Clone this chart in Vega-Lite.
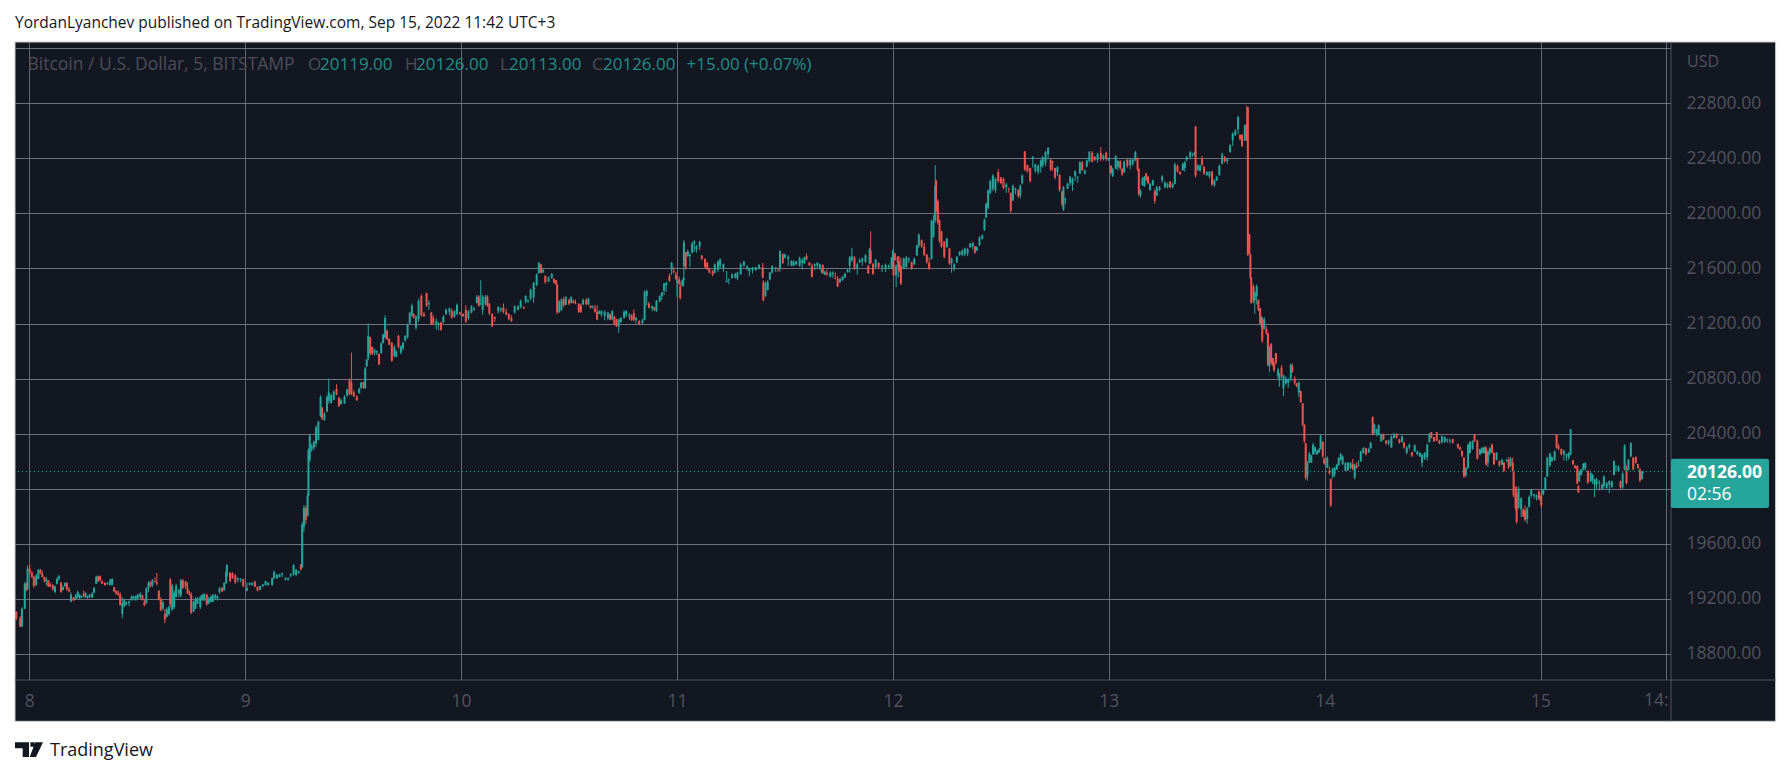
{"$schema":"https://vega.github.io/schema/vega-lite/v6.json","description":"BTC/USD 5 minute candles, Bitstamp, 8-15 Sep 2022","width":1656,"height":638,"autosize":"none","padding":{"left":15,"top":42,"right":120,"bottom":94},"background":"#ffffff","view":{"fill":"#131722","stroke":null},"config":{"font":"Open Sans","text":{"font":"Open Sans"}},"title":{"text":"YordanLyanchev published on TradingView.com, Sep 15, 2022 11:42 UTC+3","anchor":"start","frame":"group","offset":10,"fontSize":15.5,"fontWeight":"normal","color":"#131722"},"resolve":{"axis":{"x":"independent","y":"independent"}},"datasets":{"candles":[
{"t":7.94,"o":19105,"h":19110,"l":19045,"c":19060},{"t":7.958,"o":19060,"h":19075,"l":18994,"c":19000},{"t":7.966,"o":19000,"h":19139,"l":18995,"c":19130},{"t":7.979,"o":19130,"h":19321,"l":19125,"c":19310},{"t":7.986,"o":19310,"h":19325,"l":19255,"c":19265},{"t":7.992,"o":19270,"h":19442,"l":19265,"c":19420},{"t":8.002,"o":19420,"h":19454,"l":19380,"c":19390},{"t":8.012,"o":19390,"h":19400,"l":19350,"c":19360},{"t":8.021,"o":19360,"h":19369,"l":19280,"c":19295},{"t":8.032,"o":19300,"h":19382,"l":19295,"c":19370},{"t":8.042,"o":19345,"h":19418,"l":19345,"c":19410},{"t":8.051,"o":19410,"h":19418,"l":19382,"c":19385},{"t":8.06,"o":19385,"h":19406,"l":19357,"c":19360},{"t":8.07,"o":19360,"h":19360,"l":19320,"c":19330},{"t":8.079,"o":19330,"h":19357,"l":19297,"c":19340},{"t":8.088,"o":19335,"h":19335,"l":19285,"c":19295},{"t":8.097,"o":19305,"h":19321,"l":19285,"c":19290},{"t":8.109,"o":19300,"h":19309,"l":19260,"c":19270},{"t":8.119,"o":19250,"h":19297,"l":19241,"c":19290},{"t":8.128,"o":19310,"h":19357,"l":19305,"c":19345},{"t":8.137,"o":19345,"h":19374,"l":19333,"c":19365},{"t":8.147,"o":19320,"h":19321,"l":19244,"c":19250},{"t":8.156,"o":19265,"h":19297,"l":19260,"c":19285},{"t":8.165,"o":19295,"h":19321,"l":19285,"c":19315},{"t":8.174,"o":19315,"h":19321,"l":19260,"c":19270},{"t":8.184,"o":19270,"h":19285,"l":19248,"c":19255},{"t":8.193,"o":19180,"h":19248,"l":19176,"c":19230},{"t":8.205,"o":19210,"h":19212,"l":19183,"c":19190},{"t":8.215,"o":19195,"h":19236,"l":19192,"c":19225},{"t":8.224,"o":19210,"h":19260,"l":19207,"c":19250},{"t":8.233,"o":19205,"h":19236,"l":19200,"c":19230},{"t":8.242,"o":19210,"h":19224,"l":19207,"c":19220},{"t":8.252,"o":19240,"h":19260,"l":19212,"c":19220},{"t":8.261,"o":19210,"h":19248,"l":19207,"c":19240},{"t":8.27,"o":19210,"h":19224,"l":19200,"c":19215},{"t":8.279,"o":19210,"h":19236,"l":19207,"c":19230},{"t":8.291,"o":19210,"h":19248,"l":19207,"c":19240},{"t":8.3,"o":19245,"h":19285,"l":19241,"c":19280},{"t":8.31,"o":19310,"h":19369,"l":19309,"c":19360},{"t":8.319,"o":19365,"h":19369,"l":19321,"c":19330},{"t":8.328,"o":19365,"h":19369,"l":19328,"c":19335},{"t":8.337,"o":19330,"h":19333,"l":19309,"c":19312},{"t":8.35,"o":19315,"h":19321,"l":19297,"c":19300},{"t":8.362,"o":19305,"h":19321,"l":19304,"c":19318},{"t":8.375,"o":19300,"h":19345,"l":19297,"c":19340},{"t":8.384,"o":19305,"h":19350,"l":19297,"c":19345},{"t":8.393,"o":19285,"h":19285,"l":19248,"c":19255},{"t":8.403,"o":19260,"h":19260,"l":19231,"c":19236},{"t":8.412,"o":19240,"h":19260,"l":19224,"c":19228},{"t":8.421,"o":19230,"h":19248,"l":19151,"c":19155},{"t":8.431,"o":19090,"h":19212,"l":19059,"c":19170},{"t":8.44,"o":19150,"h":19200,"l":19139,"c":19190},{"t":8.449,"o":19160,"h":19183,"l":19151,"c":19175},{"t":8.462,"o":19170,"h":19188,"l":19147,"c":19180},{"t":8.474,"o":19190,"h":19224,"l":19188,"c":19218},{"t":8.483,"o":19205,"h":19224,"l":19200,"c":19215},{"t":8.493,"o":19190,"h":19224,"l":19188,"c":19220},{"t":8.502,"o":19205,"h":19236,"l":19200,"c":19230},{"t":8.514,"o":19210,"h":19248,"l":19200,"c":19240},{"t":8.524,"o":19225,"h":19230,"l":19188,"c":19195},{"t":8.533,"o":19175,"h":19200,"l":19147,"c":19155},{"t":8.542,"o":19170,"h":19285,"l":19163,"c":19275},{"t":8.552,"o":19275,"h":19328,"l":19248,"c":19315},{"t":8.561,"o":19320,"h":19328,"l":19285,"c":19295},{"t":8.57,"o":19300,"h":19345,"l":19285,"c":19335},{"t":8.582,"o":19330,"h":19357,"l":19320,"c":19325},{"t":8.591,"o":19320,"h":19388,"l":19297,"c":19310},{"t":8.6,"o":19260,"h":19261,"l":19188,"c":19195},{"t":8.609,"o":19195,"h":19212,"l":19110,"c":19120},{"t":8.619,"o":19130,"h":19188,"l":19115,"c":19175},{"t":8.628,"o":19090,"h":19127,"l":19023,"c":19050},{"t":8.637,"o":19070,"h":19139,"l":19066,"c":19125},{"t":8.647,"o":19090,"h":19151,"l":19079,"c":19140},{"t":8.653,"o":19340,"h":19352,"l":19139,"c":19160},{"t":8.662,"o":19120,"h":19309,"l":19115,"c":19295},{"t":8.671,"o":19140,"h":19261,"l":19127,"c":19245},{"t":8.68,"o":19215,"h":19309,"l":19212,"c":19295},{"t":8.693,"o":19240,"h":19272,"l":19212,"c":19265},{"t":8.702,"o":19225,"h":19345,"l":19212,"c":19335},{"t":8.711,"o":19335,"h":19345,"l":19272,"c":19280},{"t":8.724,"o":19325,"h":19333,"l":19272,"c":19285},{"t":8.733,"o":19280,"h":19321,"l":19236,"c":19240},{"t":8.742,"o":19240,"h":19260,"l":19224,"c":19230},{"t":8.75,"o":19230,"h":19248,"l":19091,"c":19100},{"t":8.761,"o":19110,"h":19188,"l":19103,"c":19180},{"t":8.77,"o":19130,"h":19212,"l":19127,"c":19200},{"t":8.779,"o":19165,"h":19212,"l":19163,"c":19205},{"t":8.792,"o":19140,"h":19224,"l":19127,"c":19215},{"t":8.801,"o":19190,"h":19236,"l":19188,"c":19228},{"t":8.81,"o":19190,"h":19241,"l":19183,"c":19235},{"t":8.822,"o":19230,"h":19236,"l":19151,"c":19160},{"t":8.831,"o":19165,"h":19212,"l":19163,"c":19205},{"t":8.841,"o":19178,"h":19224,"l":19176,"c":19215},{"t":8.85,"o":19180,"h":19236,"l":19176,"c":19228},{"t":8.862,"o":19205,"h":19236,"l":19200,"c":19230},{"t":8.872,"o":19205,"h":19224,"l":19188,"c":19215},{"t":8.881,"o":19250,"h":19285,"l":19236,"c":19280},{"t":8.893,"o":19280,"h":19285,"l":19248,"c":19255},{"t":8.903,"o":19262,"h":19321,"l":19260,"c":19315},{"t":8.912,"o":19315,"h":19406,"l":19309,"c":19395},{"t":8.915,"o":19370,"h":19454,"l":19357,"c":19445},{"t":8.93,"o":19390,"h":19394,"l":19321,"c":19330},{"t":8.941,"o":19385,"h":19394,"l":19345,"c":19352},{"t":8.954,"o":19370,"h":19382,"l":19309,"c":19320},{"t":8.966,"o":19340,"h":19357,"l":19321,"c":19350},{"t":8.979,"o":19340,"h":19352,"l":19321,"c":19345},{"t":8.991,"o":19345,"h":19345,"l":19285,"c":19295},{"t":9.008,"o":19260,"h":19320,"l":19255,"c":19278},{"t":9.02,"o":19305,"h":19320,"l":19297,"c":19315},{"t":9.032,"o":19300,"h":19321,"l":19297,"c":19318},{"t":9.045,"o":19325,"h":19333,"l":19285,"c":19290},{"t":9.057,"o":19290,"h":19285,"l":19255,"c":19260},{"t":9.069,"o":19265,"h":19297,"l":19265,"c":19292},{"t":9.082,"o":19295,"h":19309,"l":19285,"c":19305},{"t":9.094,"o":19300,"h":19333,"l":19297,"c":19328},{"t":9.106,"o":19300,"h":19321,"l":19297,"c":19318},{"t":9.125,"o":19300,"h":19357,"l":19297,"c":19350},{"t":9.134,"o":19350,"h":19406,"l":19345,"c":19395},{"t":9.147,"o":19350,"h":19382,"l":19345,"c":19375},{"t":9.159,"o":19360,"h":19382,"l":19357,"c":19378},{"t":9.171,"o":19375,"h":19394,"l":19357,"c":19385},{"t":9.187,"o":19340,"h":19357,"l":19333,"c":19352},{"t":9.199,"o":19340,"h":19357,"l":19333,"c":19350},{"t":9.211,"o":19370,"h":19386,"l":19357,"c":19380},{"t":9.224,"o":19375,"h":19454,"l":19369,"c":19445},{"t":9.236,"o":19375,"h":19418,"l":19365,"c":19410},{"t":9.248,"o":19390,"h":19406,"l":19382,"c":19400},{"t":9.258,"o":19450,"h":19450,"l":19406,"c":19415},{"t":9.264,"o":19430,"h":19757,"l":19425,"c":19740},
{"t":9.272,"o":19725,"h":19879,"l":19685,"c":19860},{"t":9.281,"o":19860,"h":19879,"l":19745,"c":19775},{"t":9.289,"o":19800,"h":19964,"l":19818,"c":19950},{"t":9.293,"o":19950,"h":20291,"l":19945,"c":20280},{"t":9.299,"o":20210,"h":20400,"l":20194,"c":20385},{"t":9.308,"o":20290,"h":20327,"l":20267,"c":20310},{"t":9.318,"o":20300,"h":20351,"l":20279,"c":20340},{"t":9.328,"o":20330,"h":20460,"l":20303,"c":20445},{"t":9.339,"o":20355,"h":20497,"l":20351,"c":20485},{"t":9.349,"o":20530,"h":20679,"l":20521,"c":20665},{"t":9.356,"o":20590,"h":20594,"l":20497,"c":20510},{"t":9.367,"o":20500,"h":20558,"l":20492,"c":20545},{"t":9.379,"o":20560,"h":20679,"l":20557,"c":20665},{"t":9.387,"o":20640,"h":20800,"l":20618,"c":20700},{"t":9.398,"o":20625,"h":20691,"l":20618,"c":20680},{"t":9.41,"o":20645,"h":20715,"l":20642,"c":20705},{"t":9.423,"o":20725,"h":20759,"l":20679,"c":20685},{"t":9.434,"o":20660,"h":20667,"l":20594,"c":20600},{"t":9.444,"o":20615,"h":20655,"l":20613,"c":20645},{"t":9.46,"o":20620,"h":20679,"l":20618,"c":20670},{"t":9.472,"o":20675,"h":20727,"l":20671,"c":20720},{"t":9.483,"o":20785,"h":20800,"l":20679,"c":20690},{"t":9.492,"o":20770,"h":20989,"l":20679,"c":20690},{"t":9.503,"o":20700,"h":20715,"l":20667,"c":20672},{"t":9.517,"o":20670,"h":20679,"l":20637,"c":20645},{"t":9.528,"o":20695,"h":20735,"l":20691,"c":20725},{"t":9.537,"o":20730,"h":20776,"l":20727,"c":20770},{"t":9.548,"o":20775,"h":20776,"l":20727,"c":20735},{"t":9.556,"o":20730,"h":20885,"l":20727,"c":20875},{"t":9.563,"o":20890,"h":20945,"l":20885,"c":20940},{"t":9.57,"o":20950,"h":21200,"l":20933,"c":21110},{"t":9.579,"o":21100,"h":21103,"l":20970,"c":20985},{"t":9.588,"o":21030,"h":21035,"l":20970,"c":20980},{"t":9.599,"o":20985,"h":21018,"l":20970,"c":21010},{"t":9.61,"o":20990,"h":21006,"l":20970,"c":21000},{"t":9.62,"o":20980,"h":20982,"l":20897,"c":20905},{"t":9.63,"o":20985,"h":21067,"l":20982,"c":21055},{"t":9.639,"o":21060,"h":21127,"l":21055,"c":21120},{"t":9.648,"o":21100,"h":21260,"l":21091,"c":21240},{"t":9.657,"o":21150,"h":21152,"l":21079,"c":21085},{"t":9.667,"o":21090,"h":21091,"l":21042,"c":21048},{"t":9.679,"o":21060,"h":21067,"l":20921,"c":20930},{"t":9.691,"o":20965,"h":21042,"l":20957,"c":21030},{"t":9.7,"o":20960,"h":21006,"l":20953,"c":20998},{"t":9.71,"o":21110,"h":21120,"l":21018,"c":21030},{"t":9.721,"o":20990,"h":21042,"l":20977,"c":21035},{"t":9.731,"o":21020,"h":21067,"l":21006,"c":21060},{"t":9.741,"o":21080,"h":21115,"l":21067,"c":21110},{"t":9.752,"o":21100,"h":21200,"l":21091,"c":21190},{"t":9.762,"o":21200,"h":21285,"l":21200,"c":21275},{"t":9.772,"o":21260,"h":21345,"l":21248,"c":21330},{"t":9.78,"o":21270,"h":21273,"l":21236,"c":21245},{"t":9.791,"o":21170,"h":21260,"l":21156,"c":21250},{"t":9.803,"o":21230,"h":21382,"l":21212,"c":21365},{"t":9.816,"o":21400,"h":21413,"l":21248,"c":21260},{"t":9.828,"o":21270,"h":21285,"l":21248,"c":21255},{"t":9.84,"o":21420,"h":21425,"l":21321,"c":21330},{"t":9.851,"o":21340,"h":21370,"l":21297,"c":21350},{"t":9.862,"o":21280,"h":21285,"l":21188,"c":21195},{"t":9.871,"o":21240,"h":21260,"l":21188,"c":21200},{"t":9.885,"o":21200,"h":21236,"l":21156,"c":21215},{"t":9.895,"o":21190,"h":21212,"l":21151,"c":21205},{"t":9.907,"o":21210,"h":21212,"l":21147,"c":21155},{"t":9.918,"o":21210,"h":21260,"l":21200,"c":21250},{"t":9.93,"o":21270,"h":21309,"l":21260,"c":21300},{"t":9.946,"o":21285,"h":21316,"l":21260,"c":21310},{"t":9.957,"o":21290,"h":21309,"l":21236,"c":21245},{"t":9.969,"o":21250,"h":21297,"l":21241,"c":21290},{"t":9.981,"o":21270,"h":21345,"l":21260,"c":21335},{"t":9.995,"o":21280,"h":21285,"l":21260,"c":21270},{"t":10.009,"o":21270,"h":21273,"l":21248,"c":21255},{"t":10.022,"o":21300,"h":21333,"l":21205,"c":21215},{"t":10.034,"o":21240,"h":21297,"l":21224,"c":21290},{"t":10.048,"o":21280,"h":21333,"l":21273,"c":21325},{"t":10.06,"o":21300,"h":21321,"l":21292,"c":21310},{"t":10.073,"o":21350,"h":21406,"l":21345,"c":21395},{"t":10.082,"o":21395,"h":21406,"l":21321,"c":21330},{"t":10.091,"o":21340,"h":21515,"l":21333,"c":21345},{"t":10.1,"o":21300,"h":21406,"l":21265,"c":21395},{"t":10.113,"o":21340,"h":21406,"l":21333,"c":21395},{"t":10.122,"o":21395,"h":21406,"l":21321,"c":21330},{"t":10.131,"o":21340,"h":21350,"l":21260,"c":21275},{"t":10.144,"o":21270,"h":21275,"l":21176,"c":21180},{"t":10.156,"o":21250,"h":21248,"l":21212,"c":21235},{"t":10.172,"o":21290,"h":21326,"l":21273,"c":21320},{"t":10.184,"o":21300,"h":21316,"l":21280,"c":21310},{"t":10.196,"o":21315,"h":21345,"l":21273,"c":21285},{"t":10.209,"o":21285,"h":21309,"l":21260,"c":21265},{"t":10.221,"o":21270,"h":21273,"l":21224,"c":21235},{"t":10.233,"o":21240,"h":21260,"l":21212,"c":21220},{"t":10.248,"o":21280,"h":21333,"l":21273,"c":21325},{"t":10.264,"o":21300,"h":21333,"l":21297,"c":21325},{"t":10.276,"o":21320,"h":21375,"l":21309,"c":21365},{"t":10.29,"o":21320,"h":21326,"l":21304,"c":21310},{"t":10.299,"o":21360,"h":21406,"l":21345,"c":21400},{"t":10.31,"o":21360,"h":21375,"l":21350,"c":21370},{"t":10.322,"o":21380,"h":21454,"l":21370,"c":21445},
{"t":10.336,"o":21390,"h":21503,"l":21350,"c":21495},{"t":10.34,"o":21455,"h":21462,"l":21450,"c":21452},{"t":10.35,"o":21480,"h":21564,"l":21470,"c":21555},{"t":10.36,"o":21565,"h":21648,"l":21563,"c":21640},{"t":10.37,"o":21630,"h":21630,"l":21563,"c":21570},{"t":10.38,"o":21570,"h":21600,"l":21570,"c":21590},{"t":10.39,"o":21545,"h":21551,"l":21490,"c":21500},{"t":10.405,"o":21505,"h":21544,"l":21503,"c":21535},{"t":10.42,"o":21530,"h":21568,"l":21527,"c":21560},{"t":10.43,"o":21525,"h":21527,"l":21490,"c":21498},{"t":10.44,"o":21515,"h":21515,"l":21479,"c":21485},{"t":10.445,"o":21480,"h":21491,"l":21268,"c":21280},{"t":10.455,"o":21285,"h":21370,"l":21278,"c":21360},{"t":10.465,"o":21300,"h":21382,"l":21292,"c":21375},{"t":10.475,"o":21375,"h":21394,"l":21321,"c":21335},{"t":10.485,"o":21335,"h":21399,"l":21333,"c":21390},{"t":10.5,"o":21370,"h":21382,"l":21333,"c":21345},{"t":10.51,"o":21350,"h":21399,"l":21345,"c":21390},{"t":10.52,"o":21365,"h":21375,"l":21345,"c":21350},{"t":10.53,"o":21350,"h":21375,"l":21340,"c":21345},{"t":10.545,"o":21345,"h":21345,"l":21277,"c":21285},{"t":10.555,"o":21330,"h":21345,"l":21277,"c":21285},{"t":10.565,"o":21340,"h":21382,"l":21333,"c":21370},{"t":10.58,"o":21375,"h":21382,"l":21333,"c":21340},{"t":10.59,"o":21340,"h":21388,"l":21335,"c":21380},{"t":10.6,"o":21330,"h":21333,"l":21309,"c":21315},{"t":10.61,"o":21315,"h":21333,"l":21309,"c":21320},{"t":10.62,"o":21310,"h":21333,"l":21279,"c":21285},{"t":10.63,"o":21285,"h":21333,"l":21224,"c":21230},{"t":10.64,"o":21270,"h":21297,"l":21268,"c":21290},{"t":10.65,"o":21265,"h":21297,"l":21248,"c":21290},{"t":10.665,"o":21255,"h":21297,"l":21224,"c":21285},{"t":10.68,"o":21240,"h":21285,"l":21224,"c":21280},{"t":10.69,"o":21265,"h":21273,"l":21224,"c":21230},{"t":10.7,"o":21230,"h":21297,"l":21225,"c":21290},{"t":10.71,"o":21250,"h":21256,"l":21188,"c":21195},{"t":10.72,"o":21230,"h":21236,"l":21176,"c":21180},{"t":10.73,"o":21180,"h":21236,"l":21132,"c":21230},{"t":10.74,"o":21210,"h":21248,"l":21205,"c":21240},{"t":10.755,"o":21240,"h":21297,"l":21236,"c":21285},{"t":10.765,"o":21265,"h":21297,"l":21248,"c":21290},{"t":10.78,"o":21250,"h":21273,"l":21224,"c":21265},{"t":10.79,"o":21255,"h":21268,"l":21219,"c":21225},{"t":10.8,"o":21275,"h":21302,"l":21217,"c":21230},{"t":10.81,"o":21225,"h":21248,"l":21200,"c":21240},{"t":10.825,"o":21220,"h":21224,"l":21188,"c":21195},{"t":10.84,"o":21205,"h":21236,"l":21195,"c":21225},{"t":10.85,"o":21225,"h":21442,"l":21224,"c":21430},{"t":10.86,"o":21400,"h":21447,"l":21333,"c":21435},{"t":10.87,"o":21345,"h":21357,"l":21309,"c":21315},{"t":10.885,"o":21310,"h":21333,"l":21290,"c":21325},{"t":10.895,"o":21320,"h":21321,"l":21292,"c":21300},{"t":10.905,"o":21290,"h":21370,"l":21285,"c":21365},{"t":10.92,"o":21360,"h":21406,"l":21357,"c":21400},{"t":10.93,"o":21400,"h":21430,"l":21370,"c":21425},{"t":10.94,"o":21440,"h":21496,"l":21406,"c":21490},{"t":10.95,"o":21480,"h":21503,"l":21430,"c":21495},{"t":10.965,"o":21545,"h":21564,"l":21503,"c":21510},{"t":10.975,"o":21590,"h":21648,"l":21551,"c":21640},{"t":10.985,"o":21580,"h":21612,"l":21564,"c":21575},{"t":10.995,"o":21555,"h":21576,"l":21515,"c":21525},{"t":11.0,"o":21500,"h":21539,"l":21394,"c":21510},{"t":11.01,"o":21520,"h":21540,"l":21479,"c":21490},{"t":11.015,"o":21470,"h":21503,"l":21375,"c":21385},{"t":11.025,"o":21475,"h":21520,"l":21472,"c":21515},{"t":11.031,"o":21515,"h":21540,"l":21467,"c":21530},{"t":11.032,"o":21620,"h":21806,"l":21527,"c":21790},{"t":11.04,"o":21720,"h":21721,"l":21593,"c":21605},{"t":11.05,"o":21690,"h":21738,"l":21685,"c":21725},{"t":11.06,"o":21690,"h":21709,"l":21612,"c":21700},{"t":11.07,"o":21715,"h":21794,"l":21709,"c":21780},{"t":11.08,"o":21780,"h":21806,"l":21721,"c":21795},{"t":11.09,"o":21740,"h":21770,"l":21714,"c":21760},{"t":11.105,"o":21760,"h":21800,"l":21733,"c":21795},{"t":11.115,"o":21695,"h":21697,"l":21660,"c":21670},{"t":11.13,"o":21670,"h":21673,"l":21600,"c":21610},{"t":11.14,"o":21640,"h":21648,"l":21588,"c":21595},{"t":11.15,"o":21600,"h":21600,"l":21564,"c":21570},{"t":11.165,"o":21580,"h":21588,"l":21544,"c":21555},{"t":11.175,"o":21570,"h":21636,"l":21564,"c":21630},{"t":11.19,"o":21590,"h":21660,"l":21576,"c":21650},{"t":11.2,"o":21620,"h":21673,"l":21600,"c":21665},{"t":11.215,"o":21600,"h":21636,"l":21576,"c":21630},{"t":11.23,"o":21500,"h":21583,"l":21503,"c":21510},{"t":11.24,"o":21515,"h":21527,"l":21484,"c":21520},{"t":11.255,"o":21530,"h":21564,"l":21527,"c":21555},{"t":11.27,"o":21535,"h":21568,"l":21527,"c":21560},{"t":11.28,"o":21530,"h":21576,"l":21515,"c":21570},{"t":11.295,"o":21560,"h":21641,"l":21551,"c":21630},{"t":11.31,"o":21620,"h":21656,"l":21612,"c":21650},{"t":11.325,"o":21600,"h":21624,"l":21588,"c":21615},{"t":11.335,"o":21580,"h":21606,"l":21544,"c":21600},{"t":11.35,"o":21590,"h":21612,"l":21564,"c":21605},{"t":11.365,"o":21590,"h":21612,"l":21583,"c":21608},{"t":11.38,"o":21600,"h":21631,"l":21593,"c":21625},{"t":11.397,"o":21610,"h":21641,"l":21527,"c":21535},{"t":11.4,"o":21500,"h":21515,"l":21362,"c":21370},{"t":11.41,"o":21400,"h":21503,"l":21394,"c":21495},{"t":11.42,"o":21445,"h":21515,"l":21442,"c":21505},{"t":11.43,"o":21520,"h":21576,"l":21515,"c":21570},{"t":11.441,"o":21570,"h":21624,"l":21564,"c":21618},{"t":11.457,"o":21600,"h":21612,"l":21576,"c":21605},{"t":11.468,"o":21600,"h":21605,"l":21576,"c":21595},{"t":11.477,"o":21600,"h":21733,"l":21576,"c":21725},{"t":11.49,"o":21705,"h":21709,"l":21632,"c":21640},{"t":11.5,"o":21680,"h":21709,"l":21673,"c":21700},{"t":11.515,"o":21670,"h":21697,"l":21617,"c":21685},{"t":11.53,"o":21620,"h":21660,"l":21617,"c":21655},{"t":11.54,"o":21620,"h":21660,"l":21617,"c":21650},{"t":11.552,"o":21630,"h":21656,"l":21624,"c":21650},{"t":11.568,"o":21620,"h":21685,"l":21612,"c":21675},{"t":11.58,"o":21640,"h":21673,"l":21593,"c":21660},{"t":11.59,"o":21640,"h":21685,"l":21632,"c":21680},{"t":11.6,"o":21690,"h":21709,"l":21660,"c":21665},{"t":11.613,"o":21640,"h":21648,"l":21617,"c":21625},{"t":11.625,"o":21620,"h":21636,"l":21534,"c":21540},{"t":11.638,"o":21620,"h":21636,"l":21588,"c":21630},{"t":11.65,"o":21620,"h":21648,"l":21600,"c":21640},{"t":11.662,"o":21605,"h":21636,"l":21588,"c":21630},{"t":11.671,"o":21570,"h":21600,"l":21568,"c":21590},{"t":11.675,"o":21625,"h":21630,"l":21560,"c":21570},{"t":11.684,"o":21555,"h":21583,"l":21551,"c":21575},
{"t":11.694,"o":21570,"h":21590,"l":21545,"c":21555},{"t":11.71,"o":21540,"h":21580,"l":21535,"c":21570},{"t":11.722,"o":21560,"h":21580,"l":21530,"c":21570},{"t":11.733,"o":21530,"h":21570,"l":21520,"c":21525},{"t":11.744,"o":21525,"h":21545,"l":21465,"c":21470},{"t":11.755,"o":21500,"h":21530,"l":21495,"c":21525},{"t":11.767,"o":21515,"h":21545,"l":21510,"c":21540},{"t":11.778,"o":21535,"h":21570,"l":21530,"c":21560},{"t":11.79,"o":21575,"h":21600,"l":21570,"c":21590},{"t":11.8,"o":21620,"h":21690,"l":21570,"c":21680},{"t":11.81,"o":21660,"h":21750,"l":21650,"c":21690},{"t":11.822,"o":21680,"h":21690,"l":21590,"c":21600},{"t":11.835,"o":21600,"h":21640,"l":21555,"c":21630},{"t":11.846,"o":21645,"h":21675,"l":21640,"c":21660},{"t":11.858,"o":21650,"h":21680,"l":21620,"c":21670},{"t":11.873,"o":21650,"h":21705,"l":21640,"c":21695},{"t":11.886,"o":21620,"h":21625,"l":21560,"c":21565},{"t":11.892,"o":21640,"h":21750,"l":21630,"c":21740},{"t":11.897,"o":21730,"h":21870,"l":21630,"c":21640},{"t":11.908,"o":21630,"h":21640,"l":21555,"c":21560},{"t":11.92,"o":21610,"h":21670,"l":21605,"c":21660},{"t":11.934,"o":21640,"h":21645,"l":21600,"c":21610},{"t":11.95,"o":21610,"h":21625,"l":21575,"c":21620},{"t":11.966,"o":21600,"h":21635,"l":21575,"c":21625},{"t":11.981,"o":21610,"h":21630,"l":21595,"c":21620},{"t":11.994,"o":21600,"h":21683,"l":21595,"c":21675},{"t":12.0,"o":21610,"h":21740,"l":21605,"c":21730},{"t":12.003,"o":21650,"h":21655,"l":21545,"c":21550},{"t":12.009,"o":21710,"h":21715,"l":21655,"c":21660},{"t":12.015,"o":21550,"h":21630,"l":21465,"c":21620},{"t":12.022,"o":21685,"h":21690,"l":21640,"c":21645},{"t":12.025,"o":21610,"h":21655,"l":21535,"c":21645},{"t":12.028,"o":21650,"h":21690,"l":21570,"c":21580},{"t":12.037,"o":21620,"h":21680,"l":21480,"c":21490},{"t":12.05,"o":21600,"h":21680,"l":21595,"c":21670},{"t":12.062,"o":21610,"h":21690,"l":21605,"c":21680},{"t":12.074,"o":21660,"h":21680,"l":21640,"c":21670},{"t":12.087,"o":21645,"h":21650,"l":21590,"c":21600},{"t":12.099,"o":21630,"h":21680,"l":21625,"c":21670},{"t":12.111,"o":21695,"h":21775,"l":21690,"c":21765},{"t":12.12,"o":21765,"h":21855,"l":21750,"c":21845},{"t":12.133,"o":21805,"h":21810,"l":21750,"c":21760},{"t":12.145,"o":21760,"h":21785,"l":21690,"c":21700},{"t":12.157,"o":21700,"h":21705,"l":21635,"c":21645},{"t":12.168,"o":21640,"h":21680,"l":21590,"c":21600},{"t":12.179,"o":21670,"h":21956,"l":21665,"c":21945},{"t":12.188,"o":21830,"h":21988,"l":21823,"c":21950},{"t":12.196,"o":21950,"h":22351,"l":21932,"c":22200},{"t":12.2,"o":22240,"h":22242,"l":22005,"c":22020},{"t":12.208,"o":22090,"h":22102,"l":21920,"c":21935},{"t":12.216,"o":21950,"h":21956,"l":21787,"c":21800},{"t":12.225,"o":21870,"h":21871,"l":21750,"c":21760},{"t":12.238,"o":21795,"h":21799,"l":21673,"c":21685},{"t":12.25,"o":21755,"h":21823,"l":21750,"c":21815},{"t":12.262,"o":21745,"h":21750,"l":21624,"c":21635},{"t":12.272,"o":21640,"h":21678,"l":21569,"c":21670},{"t":12.284,"o":21600,"h":21641,"l":21581,"c":21630},{"t":12.296,"o":21645,"h":21690,"l":21641,"c":21685},{"t":12.309,"o":21700,"h":21726,"l":21690,"c":21720},{"t":12.321,"o":21700,"h":21738,"l":21690,"c":21730},{"t":12.333,"o":21700,"h":21750,"l":21690,"c":21745},{"t":12.346,"o":21710,"h":21750,"l":21690,"c":21740},{"t":12.358,"o":21755,"h":21787,"l":21750,"c":21780},{"t":12.37,"o":21760,"h":21792,"l":21738,"c":21785},{"t":12.38,"o":21760,"h":21763,"l":21707,"c":21715},{"t":12.389,"o":21730,"h":21763,"l":21726,"c":21755},{"t":12.401,"o":21770,"h":21835,"l":21763,"c":21825},{"t":12.414,"o":21815,"h":21847,"l":21811,"c":21840},{"t":12.424,"o":21880,"h":21964,"l":21872,"c":21955},{"t":12.432,"o":21970,"h":22078,"l":21968,"c":22070},{"t":12.441,"o":22040,"h":22175,"l":22029,"c":22165},{"t":12.451,"o":22150,"h":22247,"l":22138,"c":22235},{"t":12.463,"o":22180,"h":22284,"l":22162,"c":22275},{"t":12.475,"o":22170,"h":22260,"l":22150,"c":22250},{"t":12.488,"o":22300,"h":22320,"l":22223,"c":22235},{"t":12.5,"o":22260,"h":22264,"l":22211,"c":22220},{"t":12.512,"o":22250,"h":22260,"l":22175,"c":22185},{"t":12.525,"o":22190,"h":22223,"l":22150,"c":22210},{"t":12.537,"o":22180,"h":22187,"l":22150,"c":22175},{"t":12.546,"o":22150,"h":22150,"l":22005,"c":22020},{"t":12.556,"o":22095,"h":22211,"l":22090,"c":22200},{"t":12.568,"o":22170,"h":22187,"l":22138,"c":22180},{"t":12.581,"o":22170,"h":22175,"l":22114,"c":22125},{"t":12.59,"o":22130,"h":22211,"l":22109,"c":22200},{"t":12.599,"o":22220,"h":22284,"l":22211,"c":22275},{"t":12.611,"o":22450,"h":22453,"l":22308,"c":22320},{"t":12.623,"o":22350,"h":22356,"l":22296,"c":22305},{"t":12.636,"o":22330,"h":22332,"l":22223,"c":22235},{"t":12.648,"o":22400,"h":22417,"l":22332,"c":22410},{"t":12.66,"o":22310,"h":22361,"l":22296,"c":22355},{"t":12.673,"o":22300,"h":22356,"l":22284,"c":22345},{"t":12.685,"o":22340,"h":22392,"l":22296,"c":22385},{"t":12.694,"o":22350,"h":22417,"l":22332,"c":22410},{"t":12.707,"o":22370,"h":22453,"l":22344,"c":22445},{"t":12.719,"o":22430,"h":22482,"l":22393,"c":22475},{"t":12.731,"o":22390,"h":22393,"l":22308,"c":22320},{"t":12.74,"o":22380,"h":22380,"l":22308,"c":22370},{"t":12.751,"o":22330,"h":22332,"l":22247,"c":22260},{"t":12.762,"o":22300,"h":22344,"l":22272,"c":22335},{"t":12.772,"o":22280,"h":22284,"l":22158,"c":22170},{"t":12.784,"o":22160,"h":22163,"l":22053,"c":22065},{"t":12.79,"o":22030,"h":22199,"l":22017,"c":22190},{"t":12.799,"o":22100,"h":22114,"l":22066,"c":22105},{"t":12.809,"o":22180,"h":22223,"l":22175,"c":22215},{"t":12.821,"o":22220,"h":22272,"l":22199,"c":22265},{"t":12.832,"o":22210,"h":22260,"l":22163,"c":22250},{"t":12.844,"o":22270,"h":22313,"l":22235,"c":22305},{"t":12.856,"o":22260,"h":22272,"l":22223,"c":22265},{"t":12.866,"o":22290,"h":22381,"l":22284,"c":22370},{"t":12.877,"o":22370,"h":22381,"l":22308,"c":22315},{"t":12.889,"o":22290,"h":22320,"l":22284,"c":22310},{"t":12.898,"o":22340,"h":22392,"l":22335,"c":22385},{"t":12.91,"o":22380,"h":22453,"l":22369,"c":22445},{"t":12.923,"o":22440,"h":22453,"l":22370,"c":22375},{"t":12.935,"o":22410,"h":22417,"l":22381,"c":22390},{"t":12.948,"o":22390,"h":22441,"l":22369,"c":22430},{"t":12.963,"o":22440,"h":22482,"l":22381,"c":22400},{"t":12.975,"o":22400,"h":22429,"l":22385,"c":22420},{"t":12.988,"o":22440,"h":22449,"l":22381,"c":22400},{"t":13.0,"o":22385,"h":22405,"l":22381,"c":22400},{"t":13.01,"o":22345,"h":22350,"l":22284,"c":22295},{"t":13.018,"o":22270,"h":22332,"l":22265,"c":22320},{"t":13.032,"o":22325,"h":22424,"l":22320,"c":22415},{"t":13.042,"o":22340,"h":22386,"l":22313,"c":22380},{"t":13.053,"o":22380,"h":22386,"l":22315,"c":22330},{"t":13.062,"o":22320,"h":22332,"l":22272,"c":22285},{"t":13.071,"o":22300,"h":22386,"l":22296,"c":22375},{"t":13.086,"o":22390,"h":22393,"l":22332,"c":22345},{"t":13.099,"o":22350,"h":22400,"l":22320,"c":22390},{"t":13.111,"o":22360,"h":22400,"l":22344,"c":22390},{"t":13.123,"o":22385,"h":22453,"l":22381,"c":22445},{"t":13.133,"o":22400,"h":22405,"l":22308,"c":22320},{"t":13.139,"o":22320,"h":22332,"l":22126,"c":22140},{"t":13.147,"o":22130,"h":22175,"l":22114,"c":22165},{"t":13.156,"o":22205,"h":22264,"l":22199,"c":22255},{"t":13.165,"o":22200,"h":22272,"l":22192,"c":22265},{"t":13.173,"o":22290,"h":22296,"l":22235,"c":22245},{"t":13.182,"o":22265,"h":22272,"l":22211,"c":22220},{"t":13.191,"o":22170,"h":22223,"l":22163,"c":22215},{"t":13.204,"o":22205,"h":22247,"l":22199,"c":22240},{"t":13.213,"o":22160,"h":22175,"l":22070,"c":22090},{"t":13.222,"o":22130,"h":22199,"l":22126,"c":22190},{"t":13.235,"o":22170,"h":22199,"l":22163,"c":22190},{"t":13.247,"o":22240,"h":22279,"l":22223,"c":22270},{"t":13.26,"o":22190,"h":22235,"l":22182,"c":22225},{"t":13.272,"o":22190,"h":22223,"l":22182,"c":22215},{"t":13.284,"o":22230,"h":22235,"l":22182,"c":22190},{"t":13.296,"o":22190,"h":22223,"l":22182,"c":22215},{"t":13.306,"o":22215,"h":22369,"l":22211,"c":22355},{"t":13.318,"o":22345,"h":22356,"l":22296,"c":22305},{"t":13.33,"o":22300,"h":22308,"l":22279,"c":22285},{"t":13.343,"o":22315,"h":22369,"l":22308,"c":22360},{"t":13.352,"o":22330,"h":22381,"l":22303,"c":22370},{"t":13.361,"o":22390,"h":22417,"l":22376,"c":22410},{"t":13.377,"o":22410,"h":22453,"l":22393,"c":22445},{"t":13.389,"o":22425,"h":22441,"l":22410,"c":22430},{"t":13.398,"o":22430,"h":22449,"l":22417,"c":22440},{"t":13.402,"o":22630,"h":22635,"l":22260,"c":22275},{"t":13.412,"o":22315,"h":22356,"l":22308,"c":22350},{"t":13.423,"o":22310,"h":22356,"l":22303,"c":22345},{"t":13.432,"o":22400,"h":22417,"l":22344,"c":22355},{"t":13.441,"o":22340,"h":22344,"l":22279,"c":22290},{"t":13.454,"o":22280,"h":22308,"l":22272,"c":22300},{"t":13.466,"o":22270,"h":22308,"l":22255,"c":22300},{"t":13.478,"o":22305,"h":22308,"l":22199,"c":22210},{"t":13.489,"o":22205,"h":22247,"l":22192,"c":22240},{"t":13.5,"o":22240,"h":22272,"l":22235,"c":22265},{"t":13.512,"o":22280,"h":22356,"l":22272,"c":22345},{"t":13.525,"o":22360,"h":22441,"l":22356,"c":22430},{"t":13.537,"o":22410,"h":22417,"l":22369,"c":22380},{"t":13.549,"o":22380,"h":22405,"l":22361,"c":22395},{"t":13.562,"o":22445,"h":22502,"l":22441,"c":22495},{"t":13.574,"o":22530,"h":22587,"l":22490,"c":22580},{"t":13.586,"o":22570,"h":22611,"l":22563,"c":22600},{"t":13.599,"o":22610,"h":22708,"l":22575,"c":22700},{"t":13.608,"o":22570,"h":22575,"l":22531,"c":22540},{"t":13.617,"o":22570,"h":22575,"l":22483,"c":22490},{"t":13.63,"o":22530,"h":22647,"l":22526,"c":22640},{"t":13.639,"o":22650,"h":22781,"l":22526,"c":22535},{"t":13.644,"o":22770,"h":22775,"l":21690,"c":21700},{"t":13.651,"o":21850,"h":21852,"l":21702,"c":21710},{"t":13.656,"o":21700,"h":21710,"l":21520,"c":21530},{"t":13.66,"o":21530,"h":21535,"l":21343,"c":21350},{"t":13.67,"o":21470,"h":21484,"l":21351,"c":21365},{"t":13.676,"o":21370,"h":21435,"l":21271,"c":21425},{"t":13.685,"o":21400,"h":21484,"l":21339,"c":21470},{"t":13.693,"o":21370,"h":21375,"l":21290,"c":21300},{"t":13.701,"o":21310,"h":21314,"l":21193,"c":21200},{"t":13.708,"o":21175,"h":21254,"l":21169,"c":21245},{"t":13.711,"o":21230,"h":21241,"l":21060,"c":21075},{"t":13.72,"o":21160,"h":21246,"l":21157,"c":21230},{"t":13.73,"o":21160,"h":21181,"l":21120,"c":21130},{"t":13.737,"o":21130,"h":21133,"l":20890,"c":20900},{"t":13.744,"o":20890,"h":21036,"l":20849,"c":21020},{"t":13.752,"o":21050,"h":21060,"l":20902,"c":20915},{"t":13.76,"o":20950,"h":20951,"l":20890,"c":20900},{"t":13.765,"o":20910,"h":20927,"l":20849,"c":20860},{"t":13.774,"o":20985,"h":20987,"l":20902,"c":20915},{"t":13.784,"o":20820,"h":20878,"l":20805,"c":20865},{"t":13.79,"o":20790,"h":20842,"l":20740,"c":20830},{"t":13.8,"o":20880,"h":20897,"l":20805,"c":20820},{"t":13.809,"o":20730,"h":20830,"l":20672,"c":20820},{"t":13.82,"o":20765,"h":20817,"l":20757,"c":20800},{"t":13.831,"o":20770,"h":20805,"l":20733,"c":20795},{"t":13.843,"o":20800,"h":20909,"l":20781,"c":20900},{"t":13.85,"o":20890,"h":20909,"l":20842,"c":20850},{"t":13.861,"o":20800,"h":20817,"l":20757,"c":20770},{"t":13.87,"o":20765,"h":20769,"l":20737,"c":20745},{"t":13.88,"o":20700,"h":20781,"l":20667,"c":20770},{"t":13.889,"o":20710,"h":20713,"l":20623,"c":20630},{"t":13.898,"o":20620,"h":20623,"l":20454,"c":20465},{"t":13.906,"o":20465,"h":20470,"l":20333,"c":20345},{"t":13.912,"o":20330,"h":20333,"l":20066,"c":20080},{"t":13.92,"o":20095,"h":20200,"l":20059,"c":20190},{"t":13.929,"o":20190,"h":20267,"l":20187,"c":20255},{"t":13.938,"o":20190,"h":20248,"l":20187,"c":20240},{"t":13.946,"o":20250,"h":20333,"l":20248,"c":20320},{"t":13.955,"o":20270,"h":20308,"l":20248,"c":20300},{"t":13.965,"o":20250,"h":20284,"l":20248,"c":20275},{"t":13.974,"o":20265,"h":20296,"l":20260,"c":20285},{"t":13.981,"o":20290,"h":20393,"l":20284,"c":20385},{"t":13.991,"o":20340,"h":20345,"l":20224,"c":20235},{"t":13.998,"o":20220,"h":20224,"l":20175,"c":20185},{"t":14.012,"o":20155,"h":20235,"l":20150,"c":20225},{"t":14.022,"o":20130,"h":20163,"l":20103,"c":20115},{"t":14.028,"o":20070,"h":20073,"l":19867,"c":19880},{"t":14.037,"o":20090,"h":20153,"l":20073,"c":20145},{"t":14.046,"o":20105,"h":20158,"l":20085,"c":20150},{"t":14.056,"o":20140,"h":20182,"l":20138,"c":20175},{"t":14.065,"o":20170,"h":20230,"l":20170,"c":20225},{"t":14.074,"o":20210,"h":20260,"l":20206,"c":20250},{"t":14.083,"o":20180,"h":20243,"l":20170,"c":20235},{"t":14.096,"o":20130,"h":20194,"l":20129,"c":20185},{"t":14.108,"o":20135,"h":20194,"l":20129,"c":20190},{"t":14.12,"o":20150,"h":20194,"l":20146,"c":20185},{"t":14.13,"o":20180,"h":20218,"l":20134,"c":20145},{"t":14.139,"o":20080,"h":20182,"l":20068,"c":20170},{"t":14.148,"o":20165,"h":20194,"l":20146,"c":20155},{"t":14.157,"o":20165,"h":20206,"l":20163,"c":20170},{"t":14.167,"o":20200,"h":20279,"l":20194,"c":20270},{"t":14.179,"o":20260,"h":20303,"l":20255,"c":20295},{"t":14.191,"o":20295,"h":20298,"l":20243,"c":20250},{"t":14.204,"o":20265,"h":20298,"l":20260,"c":20290},{"t":14.213,"o":20295,"h":20340,"l":20291,"c":20335},{"t":14.222,"o":20520,"h":20526,"l":20388,"c":20395},{"t":14.23,"o":20405,"h":20473,"l":20400,"c":20465},{"t":14.241,"o":20400,"h":20437,"l":20381,"c":20430},{"t":14.25,"o":20390,"h":20468,"l":20388,"c":20460},{"t":14.262,"o":20345,"h":20400,"l":20340,"c":20395},{"t":14.272,"o":20395,"h":20400,"l":20352,"c":20360},{"t":14.284,"o":20350,"h":20352,"l":20320,"c":20330},{"t":14.296,"o":20330,"h":20357,"l":20315,"c":20350},{"t":14.309,"o":20300,"h":20388,"l":20298,"c":20380},{"t":14.321,"o":20370,"h":20407,"l":20364,"c":20400},{"t":14.333,"o":20400,"h":20400,"l":20364,"c":20370},{"t":14.346,"o":20360,"h":20364,"l":20328,"c":20335},{"t":14.358,"o":20340,"h":20388,"l":20335,"c":20380},{"t":14.367,"o":20335,"h":20340,"l":20291,"c":20300},{"t":14.38,"o":20260,"h":20308,"l":20250,"c":20300},{"t":14.392,"o":20300,"h":20328,"l":20284,"c":20320},{"t":14.404,"o":20265,"h":20267,"l":20230,"c":20240},{"t":14.417,"o":20270,"h":20323,"l":20267,"c":20315},{"t":14.429,"o":20250,"h":20279,"l":20243,"c":20270},{"t":14.441,"o":20235,"h":20267,"l":20230,"c":20260},{"t":14.451,"o":20190,"h":20255,"l":20158,"c":20245},{"t":14.463,"o":20215,"h":20267,"l":20211,"c":20260},{"t":14.475,"o":20230,"h":20328,"l":20206,"c":20320},{"t":14.485,"o":20340,"h":20405,"l":20333,"c":20400},{"t":14.494,"o":20410,"h":20412,"l":20364,"c":20370},{"t":14.506,"o":20375,"h":20376,"l":20340,"c":20345},{"t":14.519,"o":20410,"h":20412,"l":20345,"c":20350},{"t":14.531,"o":20350,"h":20357,"l":20323,"c":20330},{"t":14.543,"o":20340,"h":20388,"l":20328,"c":20380},{"t":14.556,"o":20340,"h":20381,"l":20333,"c":20375},{"t":14.568,"o":20350,"h":20364,"l":20333,"c":20360},{"t":14.58,"o":20350,"h":20364,"l":20328,"c":20355},{"t":14.593,"o":20360,"h":20364,"l":20328,"c":20335},{"t":14.617,"o":20325,"h":20328,"l":20291,"c":20300},{"t":14.627,"o":20300,"h":20308,"l":20279,"c":20285},{"t":14.636,"o":20275,"h":20279,"l":20230,"c":20240},{"t":14.645,"o":20225,"h":20230,"l":20078,"c":20090},{"t":14.654,"o":20100,"h":20158,"l":20085,"c":20150},{"t":14.664,"o":20150,"h":20328,"l":20146,"c":20320},{"t":14.673,"o":20260,"h":20347,"l":20255,"c":20340},{"t":14.685,"o":20290,"h":20352,"l":20284,"c":20345},{"t":14.694,"o":20390,"h":20400,"l":20340,"c":20345},{"t":14.707,"o":20350,"h":20357,"l":20211,"c":20220},{"t":14.719,"o":20250,"h":20291,"l":20243,"c":20285},{"t":14.728,"o":20260,"h":20303,"l":20255,"c":20295},{"t":14.738,"o":20260,"h":20308,"l":20255,"c":20300},{"t":14.747,"o":20300,"h":20308,"l":20167,"c":20175},{"t":14.756,"o":20190,"h":20279,"l":20158,"c":20270},{"t":14.765,"o":20260,"h":20303,"l":20243,"c":20295},{"t":14.775,"o":20320,"h":20328,"l":20255,"c":20265},{"t":14.784,"o":20260,"h":20267,"l":20170,"c":20180},{"t":14.796,"o":20210,"h":20267,"l":20206,"c":20260},{"t":14.809,"o":20200,"h":20206,"l":20158,"c":20170},{"t":14.821,"o":20175,"h":20218,"l":20170,"c":20210},{"t":14.83,"o":20190,"h":20194,"l":20120,"c":20130},{"t":14.843,"o":20200,"h":20218,"l":20194,"c":20210},{"t":14.852,"o":20210,"h":20230,"l":20145,"c":20155},{"t":14.861,"o":20170,"h":20230,"l":20160,"c":20220},{"t":14.871,"o":20190,"h":20227,"l":20122,"c":20130},{"t":14.875,"o":20120,"h":20121,"l":19939,"c":19950},{"t":14.884,"o":19950,"h":20017,"l":19846,"c":19860},{"t":14.889,"o":19970,"h":20017,"l":19745,"c":19760},{"t":14.898,"o":19860,"h":20017,"l":19855,"c":20000},{"t":14.91,"o":19850,"h":19939,"l":19794,"c":19930},{"t":14.92,"o":19850,"h":19855,"l":19794,"c":19800},{"t":14.928,"o":19840,"h":19879,"l":19761,"c":19775},{"t":14.938,"o":19780,"h":19867,"l":19746,"c":19855},{"t":14.947,"o":19870,"h":19951,"l":19862,"c":19940},{"t":14.957,"o":19950,"h":20000,"l":19939,"c":19990},{"t":14.97,"o":19950,"h":19964,"l":19927,"c":19960},{"t":14.981,"o":19940,"h":19959,"l":19915,"c":19950},{"t":14.992,"o":19980,"h":19988,"l":19915,"c":19925},{"t":15.0,"o":19925,"h":19951,"l":19915,"c":19945},{"t":15.003,"o":19950,"h":19976,"l":19862,"c":19880},{"t":15.012,"o":19960,"h":20000,"l":19952,"c":19990},{"t":15.022,"o":19995,"h":20085,"l":19988,"c":20080},{"t":15.031,"o":20090,"h":20230,"l":20085,"c":20225},{"t":15.043,"o":20170,"h":20262,"l":20158,"c":20255},{"t":15.052,"o":20200,"h":20235,"l":20194,"c":20230},{"t":15.065,"o":20210,"h":20279,"l":20202,"c":20270},{"t":15.074,"o":20390,"h":20395,"l":20291,"c":20300},{"t":15.083,"o":20310,"h":20327,"l":20279,"c":20290},{"t":15.096,"o":20290,"h":20291,"l":20243,"c":20250},{"t":15.108,"o":20250,"h":20283,"l":20206,"c":20275},{"t":15.12,"o":20240,"h":20255,"l":20201,"c":20250},{"t":15.13,"o":20225,"h":20267,"l":20211,"c":20260},{"t":15.139,"o":20250,"h":20436,"l":20243,"c":20430},{"t":15.15,"o":20205,"h":20211,"l":20170,"c":20180},{"t":15.16,"o":20170,"h":20170,"l":20146,"c":20150},{"t":15.17,"o":20165,"h":20170,"l":20030,"c":20040},{"t":15.175,"o":20020,"h":20024,"l":19968,"c":19975},{"t":15.179,"o":20055,"h":20133,"l":20049,"c":20125},{"t":15.188,"o":20100,"h":20146,"l":20097,"c":20140},{"t":15.198,"o":20140,"h":20187,"l":20133,"c":20180},{"t":15.207,"o":20150,"h":20194,"l":20133,"c":20185},{"t":15.219,"o":20130,"h":20133,"l":20036,"c":20045},{"t":15.232,"o":20055,"h":20121,"l":20049,"c":20115},{"t":15.241,"o":20060,"h":20109,"l":20036,"c":20100},{"t":15.25,"o":20030,"h":20073,"l":19940,"c":20065},{"t":15.259,"o":20030,"h":20080,"l":20000,"c":20070},{"t":15.272,"o":20040,"h":20061,"l":19988,"c":20050},{"t":15.284,"o":20000,"h":20036,"l":19995,"c":20030},{"t":15.293,"o":20020,"h":20097,"l":20000,"c":20090},{"t":15.306,"o":20005,"h":20049,"l":20000,"c":20040},{"t":15.318,"o":20030,"h":20061,"l":19969,"c":20055},{"t":15.33,"o":20012,"h":20061,"l":20008,"c":20050},{"t":15.34,"o":20100,"h":20206,"l":20097,"c":20200},{"t":15.349,"o":20160,"h":20170,"l":20121,"c":20165},{"t":15.361,"o":20130,"h":20170,"l":20121,"c":20160},{"t":15.37,"o":20050,"h":20061,"l":20000,"c":20010},{"t":15.38,"o":20010,"h":20121,"l":20000,"c":20110},{"t":15.389,"o":20140,"h":20322,"l":20133,"c":20315},{"t":15.398,"o":20150,"h":20170,"l":20032,"c":20040},{"t":15.407,"o":20135,"h":20218,"l":20133,"c":20210},{"t":15.418,"o":20235,"h":20339,"l":20230,"c":20330},{"t":15.429,"o":20225,"h":20230,"l":20133,"c":20140},{"t":15.441,"o":20230,"h":20235,"l":20182,"c":20190},{"t":15.451,"o":20180,"h":20182,"l":20146,"c":20150},{"t":15.46,"o":20145,"h":20146,"l":20049,"c":20060},{"t":15.469,"o":20070,"h":20128,"l":20066,"c":20120},{"t":15.475,"o":20119,"h":20126,"l":20113,"c":20126}]},
"layer":[
{"data":{"name":"candles"},"mark":{"type":"rule","strokeWidth":1},"encoding":{"x":{"field":"t","type":"quantitative","scale":{"domain":[7.9338,15.604],"nice":false,"padding":0},"axis":{"orient":"bottom","title":null,"values":[8,9,10,11,12,13,14,15,15.583],"grid":true,"gridColor":"#666973","gridWidth":1,"labels":false,"ticks":false,"domain":false,"zindex":0}},"y":{"field":"l","type":"quantitative","scale":{"domain":[18611,23245],"nice":false,"zero":false},"axis":{"orient":"right","title":null,"values":[18800,19200,19600,20000,20400,20800,21200,21600,22000,22400,22800,23200],"grid":true,"gridColor":"#6f727c","gridWidth":1,"labels":false,"ticks":false,"domain":false,"zindex":0}},"y2":{"field":"h"},"color":{"condition":{"test":"datum.o<=datum.c","value":"#26a69a"},"value":"#ef5350"}}},
{"data":{"name":"candles"},"mark":{"type":"bar","orient":"vertical","width":2},"encoding":{"x":{"field":"t","type":"quantitative","axis":null},"y":{"field":"o","type":"quantitative","axis":null},"y2":{"field":"c"},"color":{"condition":{"test":"datum.o<=datum.c","value":"#26a69a"},"value":"#ef5350"}}},
{"data":{"values":[{}]},"mark":{"type":"rule","color":"#26a69a","strokeWidth":1,"strokeDash":[1,3]},"encoding":{"y":{"datum":20126,"axis":null}}},
{"data":{"values":[{}]},"mark":{"type":"rect","fill":"#131722"},"encoding":{"x":{"datum":15.604,"axis":null},"x2":{"datum":16.0885},"y":{"datum":23245,"axis":null},"y2":{"datum":18311}}},
{"data":{"values":[{}]},"mark":{"type":"rect","fill":"#131722"},"encoding":{"x":{"datum":7.9338,"axis":{"orient":"bottom","title":null,"values":[8,9,10,11,12,13,14,15],"format":"d","grid":false,"ticks":false,"domain":false,"labelColor":"#50535e","labelFontSize":17.5,"labelPadding":12,"labelFont":"Open Sans","zindex":1}},"x2":{"datum":15.604},"y":{"datum":18611,"axis":{"orient":"right","title":null,"values":[18800,19200,19600,20400,20800,21200,21600,22000,22400,22800],"format":".2f","grid":false,"ticks":false,"domain":false,"labelColor":"#50535e","labelFontSize":17.5,"labelPadding":15,"labelFont":"Open Sans","zindex":1}},"y2":{"datum":18311}}},
{"data":{"values":[{}]},"mark":{"type":"rect","fill":"transparent","stroke":"#c9cbd1","strokeWidth":1},"encoding":{"x":{"datum":7.9338,"axis":null},"x2":{"datum":16.0885},"y":{"datum":23245,"axis":null},"y2":{"datum":18311}}},
{"data":{"values":[{}]},"mark":{"type":"rule","color":"#50535e","strokeWidth":1},"encoding":{"x":{"datum":15.604,"axis":null},"y":{"datum":23245,"axis":null},"y2":{"datum":18311}}},
{"data":{"values":[{}]},"mark":{"type":"rule","color":"#50535e","strokeWidth":1},"encoding":{"y":{"datum":18611,"axis":null},"x":{"datum":7.9338,"axis":null},"x2":{"datum":16.0885}}},
{"data":{"values":[{}]},"mark":{"type":"rect","fill":"#26a69a","cornerRadius":2},"encoding":{"x":{"datum":15.604,"axis":null},"x2":{"datum":16.058},"y":{"datum":20218,"axis":null},"y2":{"datum":19860}}},
{"data":{"values":[{}]},"mark":{"type":"text","text":"20126.00","align":"left","baseline":"middle","color":"#ffffff","fontWeight":"bold","fontSize":17.5},"encoding":{"x":{"datum":15.678,"axis":null},"y":{"datum":20118,"axis":null}}},
{"data":{"values":[{}]},"mark":{"type":"text","text":"02:56","align":"left","baseline":"middle","color":"#ffffff","fontSize":17.5},"encoding":{"x":{"datum":15.678,"axis":null},"y":{"datum":19955,"axis":null}}},
{"data":{"values":[{}]},"mark":{"type":"text","text":"USD","align":"left","baseline":"middle","color":"#50535e","fontSize":16},"encoding":{"x":{"datum":15.678,"axis":null},"y":{"datum":23100,"axis":null}}},
{"data":{"values":[{}]},"mark":{"type":"text","text":"14:","align":"right","baseline":"middle","color":"#50535e","fontSize":17.5},"encoding":{"x":{"datum":15.593,"axis":null},"y":{"datum":18456,"axis":null}}},
{"data":{"values":[{}]},"encoding":{"y":{"datum":23078,"axis":null}},"layer":[
{"mark":{"type":"text","text":"Bitcoin / U.S. Dollar, 5, BITSTAMP","align":"left","baseline":"middle","color":"#4b4e58","fontSize":17.5},"encoding":{"x":{"datum":7.9917,"axis":null}}},
{"mark":{"type":"text","text":"O","align":"left","baseline":"middle","color":"#4b4e58","fontSize":17},"encoding":{"x":{"datum":9.2909,"axis":null}}},
{"mark":{"type":"text","text":"20119.00","align":"left","baseline":"middle","color":"#1f8f85","fontSize":17},"encoding":{"x":{"datum":9.3465,"axis":null}}},
{"mark":{"type":"text","text":"H","align":"left","baseline":"middle","color":"#4b4e58","fontSize":17},"encoding":{"x":{"datum":9.7401,"axis":null}}},
{"mark":{"type":"text","text":"20126.00","align":"left","baseline":"middle","color":"#1f8f85","fontSize":17},"encoding":{"x":{"datum":9.7911,"axis":null}}},
{"mark":{"type":"text","text":"L","align":"left","baseline":"middle","color":"#4b4e58","fontSize":17},"encoding":{"x":{"datum":10.18,"axis":null}}},
{"mark":{"type":"text","text":"20113.00","align":"left","baseline":"middle","color":"#1f8f85","fontSize":17},"encoding":{"x":{"datum":10.2218,"axis":null}}},
{"mark":{"type":"text","text":"C","align":"left","baseline":"middle","color":"#4b4e58","fontSize":17},"encoding":{"x":{"datum":10.6062,"axis":null}}},
{"mark":{"type":"text","text":"20126.00","align":"left","baseline":"middle","color":"#1f8f85","fontSize":17},"encoding":{"x":{"datum":10.6572,"axis":null}}},
{"mark":{"type":"text","text":"+15.00 (+0.07%)","align":"left","baseline":"middle","color":"#1f8f85","fontSize":17},"encoding":{"x":{"datum":11.0445,"axis":null}}}]},
{"data":{"values":[{}]},"mark":{"type":"text","text":"TradingView","align":"left","baseline":"middle","color":"#131722","fontSize":18},"encoding":{"x":{"datum":8.0959,"axis":null},"y":{"datum":18095,"axis":null}}},
{"data":{"values":[{}]},"mark":{"type":"point","filled":true,"color":"#131722","opacity":1,"size":784,"shape":"M-1 -0.53H0V0.53H-0.45V-0.1H-1Z M0.1 -0.53H0.4V-0.2H0.1Z M0.45 -0.53H1L0.5 0.53H0.05Z"},"encoding":{"x":{"datum":7.9986,"axis":null},"y":{"datum":18105,"axis":null}}}
]}
